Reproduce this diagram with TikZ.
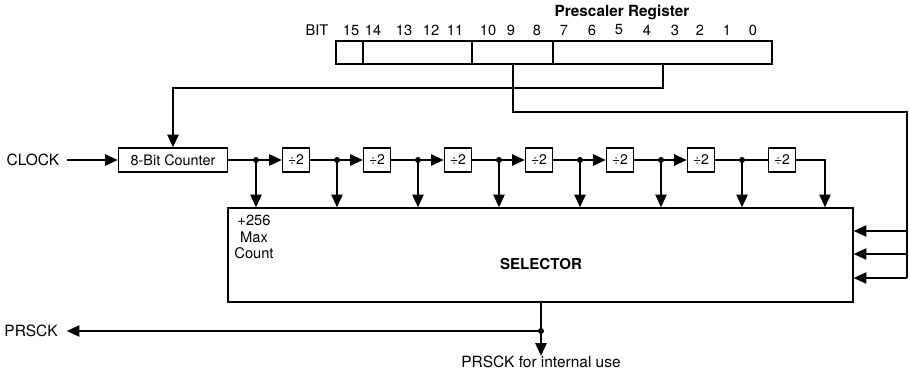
\documentclass[tikz,border=0pt]{standalone}
\usepackage{fontspec}
\setmainfont{TeX Gyre Heros}
\usetikzlibrary{arrows.meta,calc}
\tikzset{
  wire/.style={line width=1.1pt},
  arr/.style={wire,-{Triangle[length=9.5pt,width=8.5pt]}},
  box/.style={draw,line width=1.1pt,rectangle,inner sep=0pt,minimum height=18pt},
  divbox/.style={box,minimum width=20.25pt,font=\fontsize{10.5}{11}\selectfont},
  lbl/.style={inner sep=0pt,font=\fontsize{11.6}{13}\selectfont},
  bitlbl/.style={inner sep=0pt,font=\fontsize{11}{12}\selectfont},
  dot/.style={circle,fill,inner sep=0pt,minimum size=4.5pt}
}
\begin{document}
\begin{tikzpicture}[x=0.75pt,y=-0.75pt]
\useasboundingbox (0,0) rectangle (910,371);
% Prescaler register
\node[inner sep=0pt,font=\bfseries\fontsize{11.5}{13}\selectfont] (title) at (622,12) {Prescaler Register};
\node[bitlbl] (bit) at (317,30) {BIT};
\foreach \n/\x in {15/351,14/373,13/404,12/431,11/455,10/488,9/511,8/537,7/564,6/592,5/619,4/647,3/675,2/700,1/727,0/753}
  \node[bitlbl] (b\n) at (\x,30) {\n};
\draw[wire] (336,41) rectangle (772,64);
\draw[wire] (363,41) -- (363,64);
\draw[wire] (472,41) -- (472,64);
\draw[wire] (553,41) -- (553,64);
\coordinate (rA) at (513,64);
\coordinate (rB) at (663,64);
% counter and clock
\node[lbl] (clock) at (33,160) {CLOCK};
\node[box,minimum width=81.75pt,font=\fontsize{10.8}{12}\selectfont] (cnt) at (173,160) {8-Bit Counter};
\draw[arr] ($(clock.east)+(7,0)$) -- (cnt.west);
\draw[arr] (rB) -- (663,88) -| (cnt.north);
% selector
\node[draw,line width=1.1pt,rectangle,minimum width=468.75pt,minimum height=70.5pt,inner sep=0pt] (sel) at (540.5,255) {};
\node[inner sep=0pt,font=\bfseries\fontsize{11.3}{13}\selectfont] (seltext) at (541,264) {SELECTOR};
\node[inner sep=0pt,align=center,font=\fontsize{11}{12.5}\selectfont] (maxc) at (254,237) {+256\\Max\\Count};
% divider chain
\foreach \k in {0,...,6}{
  \node[divbox] (d\k) at ({296+81*\k},160) {÷2};
  \node[dot] (p\k) at ({256+81*\k},160) {};
  \draw[arr] (p\k.center) -- (p\k.center |- sel.north);
}
\draw[wire] (cnt.east) -- (p0.center);
\foreach \k in {0,...,5}{
  \draw[arr] (p\k.center) -- (d\k.west);
  \pgfmathtruncatemacro{\nk}{\k+1}
  \draw[wire] (d\k.east) -- (p\nk.center);
}
\draw[wire] (p6.center) -- (d6.west);
\coordinate (lastc) at (825,160);
\draw[arr] (d6.east) -- (lastc) -- (lastc |- sel.north);
% feedback from register bits 9/8 to selector
\coordinate (fb) at (907,112);
\draw[wire] (rA) -- (513,112) -- (fb) -- (907,278);
\foreach \y in {231,254,278}
  \draw[arr] (907,\y) -- (sel.east |- 0,\y);
% outputs
\node[dot] (od) at (541,331) {};
\draw[wire] (541,302) -- (od.center);
\node[lbl] (prsck) at (31,331) {PRSCK};
\draw[arr] (od.center) -- ($(prsck.east)+(9,0)$);
\node[lbl] (internal) at (541,362) {PRSCK for internal use};
\draw[arr] (od.center) -- (internal.north);
\end{tikzpicture}
\end{document}
